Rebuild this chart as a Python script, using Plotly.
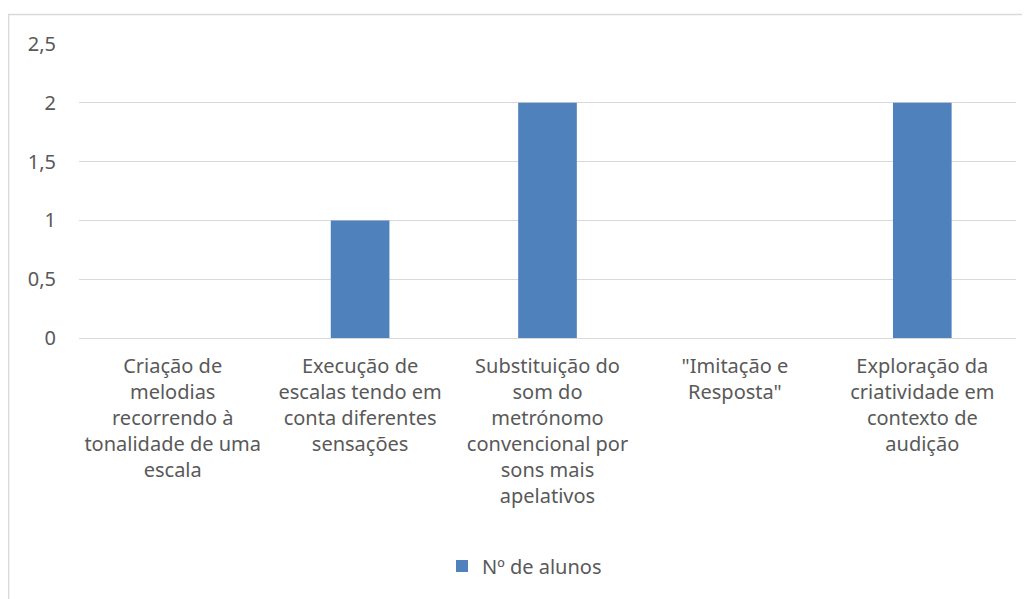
import plotly.graph_objects as go

categories = [
    "Criação de<br>melodias<br>recorrendo à<br>tonalidade de uma<br>escala",
    "Execução de<br>escalas tendo em<br>conta diferentes<br>sensações",
    "Substituição do<br>som do<br>metrónomo<br>convencional por<br>sons mais<br>apelativos",
    "\"Imitação e<br>Resposta\"",
    "Exploração da<br>criatividade em<br>contexto de<br>audição",
]
values = [0, 1, 2, 0, 2]
series_name = "Nº de alunos"
y_ticks = [0, 0.5, 1, 1.5, 2, 2.5]

TXT = "#595959"
GRID = "#d9d9d9"
FONT = "Noto Sans"
FS = 20

fig = go.Figure()
fig.add_trace(go.Bar(x=categories, y=values, name=series_name,
                     marker=dict(color="#4f81bd", line=dict(width=0)),
                     showlegend=True))

fig.update_layout(
    width=1022, height=591,
    margin=dict(l=71, r=14, t=36, b=261),
    paper_bgcolor="white", plot_bgcolor="white",
    separators=",.",
    bargap=0.687,
    font=dict(family=FONT, size=FS, color=TXT),
    showlegend=True,
    legend=dict(orientation="h", x=0.3874, xanchor="left", y=-0.7755, yanchor="middle",
                font=dict(family=FONT, size=FS, color=TXT), itemwidth=30),
    xaxis=dict(showgrid=False, showline=False, ticks="", tickangle=0,
               tickfont=dict(family=FONT, size=FS, color=TXT), ticklabelstandoff=14),
    yaxis=dict(range=[0, 2.5], tickvals=y_ticks, showgrid=True, gridcolor=GRID, gridwidth=1,
               zeroline=True, zerolinecolor=GRID, zerolinewidth=1, showline=False, ticks="",
               tickfont=dict(family=FONT, size=FS, color=TXT), ticklabelstandoff=22),
    shapes=[dict(type="rect", xref="paper", yref="paper", x0=-0.0752, x1=1.2, y0=-1.2, y1=1.1003,
                 line=dict(color=GRID, width=1.5), fillcolor="rgba(0,0,0,0)", layer="below")],
)

fig.write_html("out.html")
